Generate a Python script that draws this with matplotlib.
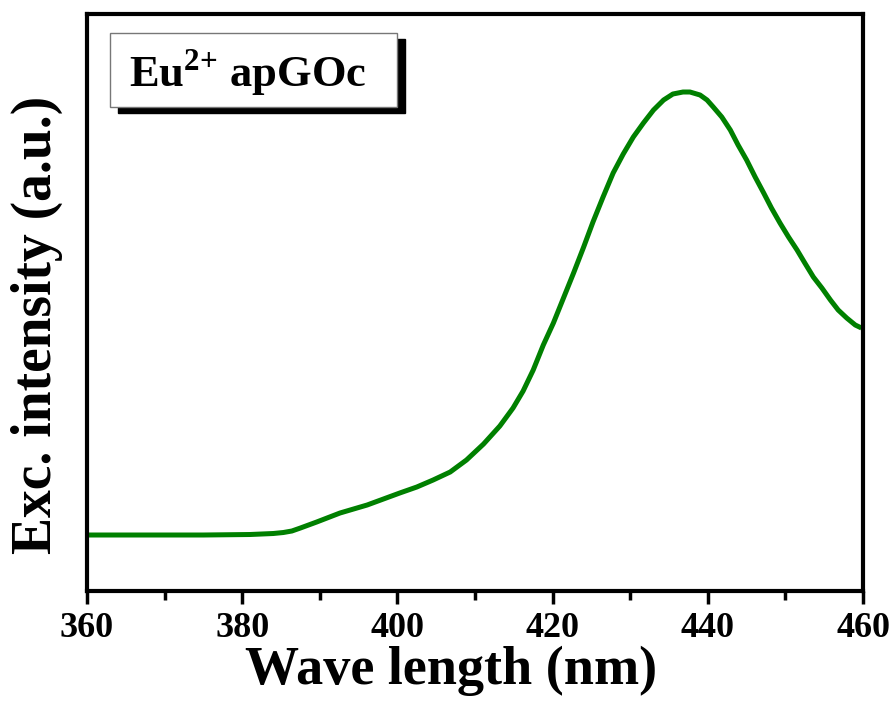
import numpy as np
import matplotlib.pyplot as plt
from matplotlib.patches import Rectangle

# --- dati (lunghezza d'onda in nm, intensita' in u.a.) ---
wavelength = [360.0, 365.0, 370.0, 375.0, 381.0, 384.0, 385.3, 386.4, 387.5, 389.6,
              392.6, 396.1, 400.3, 402.5, 404.6, 406.8, 408.9, 411.1, 413.2, 414.9,
              416.2, 417.5, 418.8, 420.1, 421.4, 422.7, 424.0, 425.2, 426.5, 427.8,
              429.1, 430.4, 431.7, 433.0, 434.3, 435.5, 436.8, 437.7, 439.0, 439.9,
              440.7, 441.8, 442.9, 443.9, 445.0, 446.1, 447.2, 448.2, 449.3, 450.4,
              451.5, 452.5, 453.6, 454.7, 455.8, 456.8, 457.9, 459.0, 459.8]
intensity = [56, 56, 56, 56, 56.5, 57.5, 58.5, 60, 63, 69,
             78, 86, 98, 104, 111, 119, 131, 147, 165, 183,
             200, 221, 246, 268, 293, 318, 344, 369, 394, 418,
             437, 454, 468, 481, 491, 497, 499, 499, 496, 491,
             484, 474, 461, 446, 431, 414, 398, 383, 368, 354,
             341, 328, 314, 303, 291, 281, 273, 266, 263]

x_ticks = [360, 380, 400, 420, 440, 460]
x_minor = [370, 390, 410, 430, 450]
legend_text = r"Eu$^{\mathbf{2{+}}}$ apGOc"

plt.rcParams['font.family'] = ['Liberation Serif', 'DejaVu Serif']
plt.rcParams['font.weight'] = 'bold'
plt.rcParams['mathtext.fontset'] = 'custom'
plt.rcParams['mathtext.rm'] = 'Liberation Serif:bold'
plt.rcParams['mathtext.bf'] = 'Liberation Serif:bold'

fig = plt.figure(figsize=(8.96, 7.04), dpi=100)
ax = fig.add_axes([0.0971, 0.1605, 0.8661, 0.8196])

ax.plot(wavelength, intensity, color='#008000', linewidth=3.6,
        solid_joinstyle='round', solid_capstyle='butt')

ax.set_xlim(360, 460)
ax.set_ylim(0, 577)
ax.set_xticks(x_ticks)
ax.set_xticks(x_minor, minor=True)
ax.set_yticks([])
ax.tick_params(axis='x', which='major', direction='out', length=9, width=2.5,
               labelsize=26, pad=6)
ax.tick_params(axis='x', which='minor', direction='out', length=6.5, width=2.5)
for lab in ax.get_xticklabels():
    lab.set_fontweight('bold')
for sp in ax.spines.values():
    sp.set_linewidth(3)

ax.set_xlabel('Wave length (nm)', fontsize=39, fontweight='bold')
ax.xaxis.set_label_coords(0.469, -0.095)
ax.set_ylabel('Exc. intensity (a.u.)', fontsize=40, fontweight='bold')
ax.yaxis.set_label_coords(-0.031, 0.461)

# riquadro dell'etichetta con ombra
ax.add_patch(Rectangle((0.0399, 0.829), 0.37, 0.128, transform=ax.transAxes,
                       facecolor='black', edgecolor='black', zorder=4))
ax.add_patch(Rectangle((0.0296, 0.839), 0.37, 0.128, transform=ax.transAxes,
                       facecolor='white', edgecolor='#777777', linewidth=1, zorder=5))
ax.text(0.207, 0.898, legend_text, transform=ax.transAxes, ha='center', va='center',
        fontsize=32, fontweight='bold', zorder=6)

plt.savefig('out.png', dpi=100)
plt.close()
